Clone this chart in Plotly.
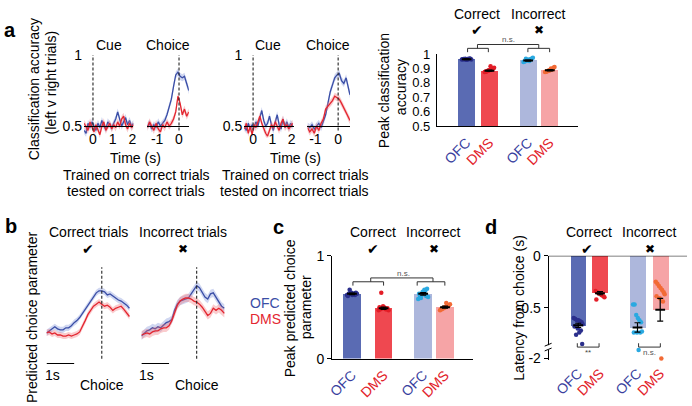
import plotly.graph_objects as go

W, H = 692, 406
FONT = "Liberation Sans, Arial, Helvetica, sans-serif"
SYM = "DejaVu Sans"

OFC_LINE = "#3a4ea6"
DMS_LINE = "#e32630"
OFC_BAND = "rgba(120,140,215,0.35)"
DMS_BAND = "rgba(240,110,115,0.35)"
BAR_COLS = ["#5a6bb3", "#ef4850", "#adb7dc", "#f6a4a6"]
DOT_COLS = ["#2b2f8c", "#e31d27", "#2aa9e1", "#f26a35"]
LBL_OFC = "#3a3f9e"
LBL_DMS = "#e2232b"

# ---------------- data ----------------
a_cue_t = [-0.45, -0.35, -0.25, -0.15, -0.05, 0.05, 0.15, 0.25, 0.35, 0.45, 0.55, 0.65, 0.75,
           0.85, 0.95, 1.05, 1.15, 1.25, 1.35, 1.45, 1.55, 1.65, 1.75, 1.85, 1.95, 2.05]
a1_ofc = [0.47, 0.45, 0.52, 0.49, 0.53, 0.50, 0.47, 0.52, 0.49, 0.54, 0.50, 0.48, 0.53,
          0.51, 0.49, 0.52, 0.55, 0.60, 0.55, 0.50, 0.53, 0.56, 0.51, 0.54, 0.50, 0.52]
a1_dms = [0.52, 0.49, 0.47, 0.53, 0.50, 0.46, 0.51, 0.48, 0.44, 0.50, 0.53, 0.47, 0.50,
          0.52, 0.48, 0.51, 0.49, 0.53, 0.50, 0.55, 0.57, 0.51, 0.48, 0.52, 0.49, 0.51]
a3_ofc = [0.50, 0.47, 0.52, 0.48, 0.51, 0.49, 0.53, 0.50, 0.56, 0.61, 0.54, 0.50, 0.52,
          0.57, 0.51, 0.47, 0.53, 0.58, 0.51, 0.48, 0.55, 0.50, 0.53, 0.49, 0.52, 0.50]
a3_dms = [0.48, 0.52, 0.45, 0.50, 0.44, 0.51, 0.49, 0.54, 0.57, 0.52, 0.48, 0.45, 0.43,
          0.47, 0.51, 0.49, 0.53, 0.50, 0.47, 0.52, 0.55, 0.49, 0.51, 0.48, 0.50, 0.52]

a2_t = [-1.45, -1.35, -1.25, -1.15, -1.05, -0.95, -0.85, -0.75, -0.65, -0.55,
        -0.45, -0.35, -0.25, -0.15, -0.05, 0.05, 0.15, 0.25, 0.35, 0.45]
a2_ofc = [0.50, 0.52, 0.48, 0.51, 0.49, 0.53, 0.50, 0.52, 0.54, 0.58,
          0.64, 0.69, 0.78, 0.86, 0.88, 0.85, 0.84, 0.85, 0.80, 0.75]
a2_dms = [0.49, 0.53, 0.50, 0.47, 0.52, 0.48, 0.46, 0.51, 0.49, 0.53,
          0.50, 0.52, 0.55, 0.60, 0.71, 0.66, 0.58, 0.62, 0.57, 0.60]

a4_t = [-1.35, -1.25, -1.15, -1.05, -0.95, -0.85, -0.75, -0.65, -0.55, -0.45,
        -0.35, -0.25, -0.15, -0.05, 0.05, 0.15, 0.25, 0.35, 0.45, 0.52]
a4_ofc = [0.50, 0.49, 0.51, 0.48, 0.50, 0.52, 0.49, 0.53, 0.58, 0.66,
          0.74, 0.79, 0.84, 0.86, 0.87, 0.82, 0.80, 0.84, 0.78, 0.72]
a4_dms = [0.49, 0.46, 0.48, 0.45, 0.50, 0.47, 0.52, 0.55, 0.62, 0.64,
          0.66, 0.68, 0.71, 0.70, 0.69, 0.66, 0.63, 0.60, 0.56, 0.54]

groups = ["OFC", "DMS", "OFC", "DMS"]
a_peak_mean = [0.965, 0.885, 0.955, 0.888]
a_peak_sem = [0.003, 0.004, 0.004, 0.004]
a_peak_pts = [
    [0.962, 0.966, 0.968, 0.960, 0.964, 0.967, 0.963, 0.965, 0.961, 0.969, 0.966, 0.964],
    [0.875, 0.880, 0.885, 0.890, 0.895, 0.900, 0.905, 0.878, 0.888, 0.893, 0.915, 0.883],
    [0.945, 0.950, 0.955, 0.960, 0.965, 0.970, 0.975, 0.948, 0.958, 0.962, 0.952, 0.968],
    [0.875, 0.880, 0.885, 0.890, 0.895, 0.905, 0.910, 0.878, 0.887, 0.893, 0.900, 0.883],
]

b_t = [-2.0, -1.9, -1.8, -1.7, -1.6, -1.5, -1.4, -1.3, -1.2, -1.1, -1.0, -0.9, -0.8, -0.7, -0.6, -0.5,
       -0.4, -0.3, -0.2, -0.1, 0.0, 0.1, 0.2, 0.3, 0.4, 0.5, 0.6, 0.7, 0.8, 0.9, 1.0]
b1_ofc = [0.25, 0.27, 0.29, 0.31, 0.29, 0.28, 0.28, 0.30, 0.30, 0.32, 0.35, 0.37, 0.40, 0.44, 0.48, 0.52,
          0.56, 0.60, 0.64, 0.66, 0.66, 0.65, 0.62, 0.63, 0.61, 0.59, 0.57, 0.56, 0.54, 0.52, 0.49]
b1_dms = [0.25, 0.26, 0.24, 0.25, 0.23, 0.23, 0.22, 0.22, 0.23, 0.22, 0.23, 0.24, 0.26, 0.31, 0.37, 0.43,
          0.47, 0.51, 0.53, 0.55, 0.53, 0.51, 0.52, 0.50, 0.47, 0.49, 0.50, 0.51, 0.48, 0.45, 0.41]
b2_ofc = [0.22, 0.25, 0.27, 0.28, 0.30, 0.29, 0.31, 0.30, 0.33, 0.35, 0.36, 0.38, 0.47, 0.53, 0.56, 0.57,
          0.58, 0.59, 0.63, 0.67, 0.71, 0.69, 0.64, 0.60, 0.58, 0.63, 0.64, 0.60, 0.55, 0.51, 0.49]
b2_dms = [0.23, 0.24, 0.25, 0.24, 0.26, 0.27, 0.27, 0.29, 0.30, 0.30, 0.32, 0.37, 0.44, 0.52, 0.56, 0.58,
          0.59, 0.59, 0.58, 0.56, 0.55, 0.53, 0.50, 0.46, 0.42, 0.44, 0.49, 0.47, 0.49, 0.47, 0.44]

c_mean = [0.63, 0.49, 0.63, 0.50]
c_sem = [0.008, 0.01, 0.012, 0.01]
c_pts = [
    [0.62, 0.63, 0.64, 0.62, 0.63, 0.64, 0.63, 0.61, 0.64, 0.62, 0.63, 0.67],
    [0.47, 0.48, 0.49, 0.50, 0.48, 0.49, 0.47, 0.50, 0.51, 0.48, 0.49, 0.64],
    [0.58, 0.60, 0.62, 0.64, 0.66, 0.68, 0.60, 0.63, 0.65, 0.61, 0.67, 0.59],
    [0.47, 0.48, 0.49, 0.50, 0.51, 0.52, 0.53, 0.48, 0.50, 0.52, 0.54, 0.49],
]

d_mean = [-0.67, -0.36, -0.69, -0.52]
d_err = [0.02, 0.015, 0.045, 0.11]
d_pts = [
    [-0.60, -0.61, -0.62, -0.62, -0.63, -0.64, -0.66, -0.68, -0.70, -0.72, -0.74, -0.76, -0.85],
    [-0.34, -0.35, -0.36, -0.37, -0.38, -0.39, -0.40, -0.42],
    [-0.47, -0.47, -0.57, -0.60, -0.62, -0.64, -0.73, -0.74, -0.74, -0.74, -1.0],
    [-0.25, -0.27, -0.29, -0.31, -0.33, -0.35, -0.37, -0.39, -0.41, -0.44, -2.0],
]

# ---------------- helpers ----------------
def xd(l, r):
    return [l / W, r / W]

def yd(t, b):
    return [1 - b / H, 1 - t / H]

def PX(x):
    return x / W

def PY(y):
    return 1 - y / H

JIT = [-0.28, -0.18, -0.08, 0.02, 0.12, 0.22, 0.28, -0.23, -0.03, 0.17, 0.07, -0.13, 0.25]

D_BREAK = -0.9
def dmap(v):
    if v >= D_BREAK:
        return v
    return D_BREAK + (v - D_BREAK) * (0.09 / 1.1)

fig = go.Figure()
axes = {}

def add_axes(n, xdom, ydom, xr, yr, xkw=None, ykw=None):
    xs = "xaxis" if n == 1 else f"xaxis{n}"
    ys = "yaxis" if n == 1 else f"yaxis{n}"
    xa = "x" if n == 1 else f"x{n}"
    ya = "y" if n == 1 else f"y{n}"
    base = dict(showgrid=False, zeroline=False, fixedrange=True,
                tickfont=dict(size=14, color="black", family=FONT),
                linecolor="black", linewidth=1, ticks="", showline=False)
    axes[xs] = {**base, "domain": xdom, "range": xr, "anchor": ya, **(xkw or {})}
    axes[ys] = {**base, "domain": ydom, "range": yr, "anchor": xa, **(ykw or {})}
    return xa, ya

A_YDOM = yd(46, 135)
A_YR = [0.419, 1.02]
A_XPOS = 1 - 123 / H
ya_lbl = dict(tickvals=[0.5, 1], ticktext=["0.5", "1"], ticklabelstandoff=1)
ya_nolbl = dict(showticklabels=False)
xa_common = dict(anchor="free", position=A_XPOS, showline=True, ticklabelstandoff=0)

ax1 = add_axes(1, xd(80, 130), A_YDOM, [-0.45, 2.05], A_YR,
               {**xa_common, "tickvals": [0, 1, 2], "ticktext": ["0", "1", "2"]}, ya_lbl)
ax2 = add_axes(2, xd(144, 186), A_YDOM, [-1.45, 0.45], A_YR,
               {**xa_common, "tickvals": [-1, 0], "ticktext": ["-1", "0"]}, ya_nolbl)
ax3 = add_axes(3, xd(242, 292), A_YDOM, [-0.46, 2.1], A_YR,
               {**xa_common, "tickvals": [0, 1, 2], "ticktext": ["0", "1", "2"]}, ya_lbl)
ax4 = add_axes(4, xd(306, 349), A_YDOM, [-1.35, 0.52], A_YR,
               {**xa_common, "tickvals": [-1, 0], "ticktext": ["-1", "0"]}, ya_nolbl)

cat_text = [f"<span style='color:{LBL_OFC}'>OFC</span>", f"<span style='color:{LBL_DMS}'>DMS</span>",
            f"<span style='color:{LBL_OFC}'>OFC</span>", f"<span style='color:{LBL_DMS}'>DMS</span>"]

A5_POS = [1.3, 2.3, 4.0, 4.95]
ax5 = add_axes(5, xd(437, 580), yd(48, 123), [0, 6.2], [0.5, 1.0],
               dict(showline=True, tickvals=A5_POS, ticktext=cat_text, tickangle=-45, ticklabelstandoff=2),
               dict(showline=True, tickvals=[0.5, 0.6, 0.7, 0.8, 0.9, 1.0],
                    ticktext=["0.5", "0.6", "0.7", "0.8", "0.9", "1"], ticklabelstandoff=3,
                    tickfont=dict(size=13, color="black", family=FONT)))

B_YDOM = yd(255, 372)
B_YR = [-0.065, 1.028]
ax6 = add_axes(6, xd(42, 127), B_YDOM, [-2.0, 1.04], B_YR, dict(visible=False), dict(visible=False))
ax7 = add_axes(7, xd(138, 223), B_YDOM, [-2.0, 1.04], B_YR, dict(visible=False), dict(visible=False))

C_POS = [0.87, 2.26, 4.0, 4.96]
ax8 = add_axes(8, xd(331, 473), yd(258, 365), [0, 6.17], [0, 1],
               dict(showline=True, tickvals=C_POS, ticktext=cat_text, tickangle=-45, ticklabelstandoff=2),
               dict(showline=True, tickvals=[0, 1], ticktext=["0", "1"], ticks="outside",
                    ticklen=4, tickcolor="black"))

D_POS = [1.3, 2.26, 3.91, 4.91]
ax9 = add_axes(9, xd(550, 690), yd(258, 366), [0, 6.09], [-1.0, 0.0],
               dict(showline=False, tickvals=D_POS, ticktext=cat_text, tickangle=-45, ticklabelstandoff=2),
               dict(showline=True, tickvals=[0, -0.5, dmap(-2.0)], ticktext=["0", "-0.5", "-2"],
                    ticks="outside", ticklen=4, tickcolor="black"))

# ---------------- traces ----------------
def band_line(ax, t, v, err, col_line, col_band):
    up = [a + err for a in v]
    lo = [a - err for a in v]
    fig.add_trace(go.Scatter(x=list(t) + list(t)[::-1], y=up + lo[::-1], fill="toself",
                             fillcolor=col_band, line=dict(width=0), mode="lines",
                             xaxis=ax[0], yaxis=ax[1], hoverinfo="skip"))
    fig.add_trace(go.Scatter(x=t, y=v, mode="lines", line=dict(color=col_line, width=1.3),
                             xaxis=ax[0], yaxis=ax[1]))

for ax, t, o, d in [(ax1, a_cue_t, a1_ofc, a1_dms), (ax2, a2_t, a2_ofc, a2_dms),
                    (ax3, a_cue_t, a3_ofc, a3_dms), (ax4, a4_t, a4_ofc, a4_dms)]:
    band_line(ax, t, o, 0.025, OFC_LINE, OFC_BAND)
    band_line(ax, t, d, 0.025, DMS_LINE, DMS_BAND)

band_line(ax6, b_t, b1_ofc, 0.03, OFC_LINE, OFC_BAND)
band_line(ax6, b_t, b1_dms, 0.03, DMS_LINE, DMS_BAND)
band_line(ax7, b_t, b2_ofc, 0.04, OFC_LINE, OFC_BAND)
band_line(ax7, b_t, b2_dms, 0.04, DMS_LINE, DMS_BAND)

def bar_panel(ax, pos, means, errs, pts, width, transform=lambda v: v):
    fig.add_trace(go.Bar(x=pos, y=means, width=width, marker=dict(color=BAR_COLS, line=dict(width=0)),
                         xaxis=ax[0], yaxis=ax[1]))
    for i, p in enumerate(pts):
        xs = [pos[i] + JIT[j % len(JIT)] * width for j in range(len(p))]
        fig.add_trace(go.Scatter(x=xs, y=[transform(v) for v in p], mode="markers",
                                 marker=dict(color=DOT_COLS[i], size=4.5),
                                 xaxis=ax[0], yaxis=ax[1], cliponaxis=False))
    fig.add_trace(go.Scatter(x=pos, y=means, mode="markers",
                             marker=dict(symbol="line-ew-open", size=7, color="black",
                                         line=dict(width=2, color="black")),
                             error_y=dict(type="data", array=errs, color="black", thickness=1.2, width=3),
                             xaxis=ax[0], yaxis=ax[1]))

bar_panel(ax5, A5_POS, a_peak_mean, a_peak_sem, a_peak_pts, 0.74)
bar_panel(ax8, C_POS, c_mean, c_sem, c_pts, 0.78)
bar_panel(ax9, D_POS, d_mean, d_err, d_pts, 0.7, transform=dmap)

# ---------------- shapes ----------------
shapes = []
def dash_v(xa, ya, y0, y1):
    shapes.append(dict(type="line", xref=xa, yref=ya, x0=0, x1=0, y0=y0, y1=y1,
                       line=dict(color="#222", width=1.1, dash="3px,2px")))

for ax in (ax1, ax2, ax3, ax4):
    dash_v(ax[0], ax[1], 0.47, 1.0)
dash_v(ax6[0], ax6[1], 0.0, 0.89)
dash_v(ax7[0], ax7[1], 0.0, 0.89)

for ax in (ax6, ax7):
    shapes.append(dict(type="line", xref=ax[0], yref=ax[1], x0=-2, x1=-1, y0=-0.047, y1=-0.047,
                       line=dict(color="black", width=1.2)))

shapes.append(dict(type="line", xref="x9 domain", yref="y9", x0=0, x1=1, y0=0, y1=0,
                   line=dict(color="black", width=1)))

def pline(x0, y0, x1, y1, w=1, col="#333"):
    shapes.append(dict(type="line", xref="paper", yref="paper", x0=PX(x0), y0=PY(y0),
                       x1=PX(x1), y1=PY(y1), line=dict(color=col, width=w)))

def bracket(xl, xr, y, down=4, stem=None, stem_len=4):
    pline(xl, y, xr, y)
    pline(xl, y, xl, y + down)
    pline(xr, y, xr, y + down)
    if stem is not None:
        pline(stem, y, stem, y - stem_len)

bracket(468, 489, 42, 4, 478, 4)
bracket(529, 551, 42, 4, 540, 4)
pline(478, 38, 540, 38)
bracket(352, 383, 285, 4, 370, 4)
bracket(417, 445, 285, 4, 433, 4)
pline(370, 281, 433, 281)
bracket(579, 601, 353, -4)
bracket(641, 663, 353, -4)

shapes.append(dict(type="rect", xref="paper", yref="paper", x0=PX(547), x1=PX(553), y0=PY(356), y1=PY(351),
                   fillcolor="white", line=dict(width=0)))
pline(546, 352, 553, 349, 1, "black")
pline(546, 357, 553, 354, 1, "black")

# ---------------- annotations ----------------
ann = []
def txt(x, y, s, size=14, color="black", family=FONT, angle=0, xanchor="center", bold=False):
    if bold:
        s = f"<b>{s}</b>"
    ann.append(dict(x=PX(x), y=PY(y), xref="paper", yref="paper", text=s, showarrow=False,
                    font=dict(size=size, color=color, family=family), textangle=angle,
                    xanchor=xanchor, yanchor="middle"))

CHECK = "✔"
CROSS = "✖"
CK_SIZE = 14
CX_SIZE = 12

txt(5, 23, "a", 20, bold=True)
txt(6, 227, "b", 20, bold=True)
txt(277, 228, "c", 20, bold=True)
txt(492, 228, "d", 20, bold=True)

txt(29, 85, "Classification accuracy", angle=-90)
txt(46, 78, "(left v right trials)", angle=-90)
txt(105, 38, "Cue")
txt(165, 38, "Choice")
txt(266, 38, "Cue")
txt(327, 38, "Choice")
txt(132, 156, "Time (s)")
txt(294, 156, "Time (s)")
txt(133, 174, "Trained on correct trials")
txt(133, 191, "tested on correct trials")
txt(294, 174, "Trained on correct trials")
txt(293, 191, "tested on incorrect trials")
txt(383, 86, "Peak classification", angle=-90)
txt(400, 82, "accuracy", angle=-90)
txt(478, 6, "Correct")
txt(540, 6, "Incorrect")
txt(478, 23, CHECK, CK_SIZE, family=SYM)
txt(540, 23, CROSS, CX_SIZE, family=SYM)
txt(509, 33, "n.s.", 8, color="#555")

txt(28, 322, "Predicted choice parameter", angle=-90)
txt(84, 233, "Correct trials")
txt(180, 233, "Incorrect trials")
txt(84, 251, CHECK, CK_SIZE, family=SYM)
txt(180, 251, CROSS, CX_SIZE, family=SYM)
txt(48, 382, "1s")
txt(143, 382, "1s")
txt(98, 392, "Choice")
txt(194, 392, "Choice")
txt(246, 307, "OFC", color=OFC_LINE, xanchor="left")
txt(246, 324, "DMS", color=DMS_LINE, xanchor="left")

txt(288, 313, "Peak predicted choice", angle=-90)
txt(304, 311, "parameter", angle=-90)
txt(372, 233, "Correct")
txt(434, 233, "Incorrect")
txt(372, 251, CHECK, CK_SIZE, family=SYM)
txt(434, 251, CROSS, CX_SIZE, family=SYM)
txt(403, 276, "n.s.", 8, color="#555")

txt(520, 312, "Latency from choice (s)", angle=-90)
txt(591, 233, "Correct")
txt(652, 233, "Incorrect")
txt(589, 251, CHECK, CK_SIZE, family=SYM)
txt(653, 251, CROSS, CX_SIZE, family=SYM)
txt(590, 359, "**", 8, color="#444")
txt(652, 359, "n.s.", 8, color="#555")

fig.update_layout(width=W, height=H, margin=dict(l=0, r=0, t=0, b=0),
                  plot_bgcolor="white", paper_bgcolor="white", showlegend=False,
                  font=dict(family=FONT, size=14, color="black"),
                  shapes=shapes, annotations=ann, bargap=0, **axes)

fig.write_html("out.html", config={"displayModeBar": False},
               post_script="document.body.style.margin='0';document.body.style.overflow='hidden';")
